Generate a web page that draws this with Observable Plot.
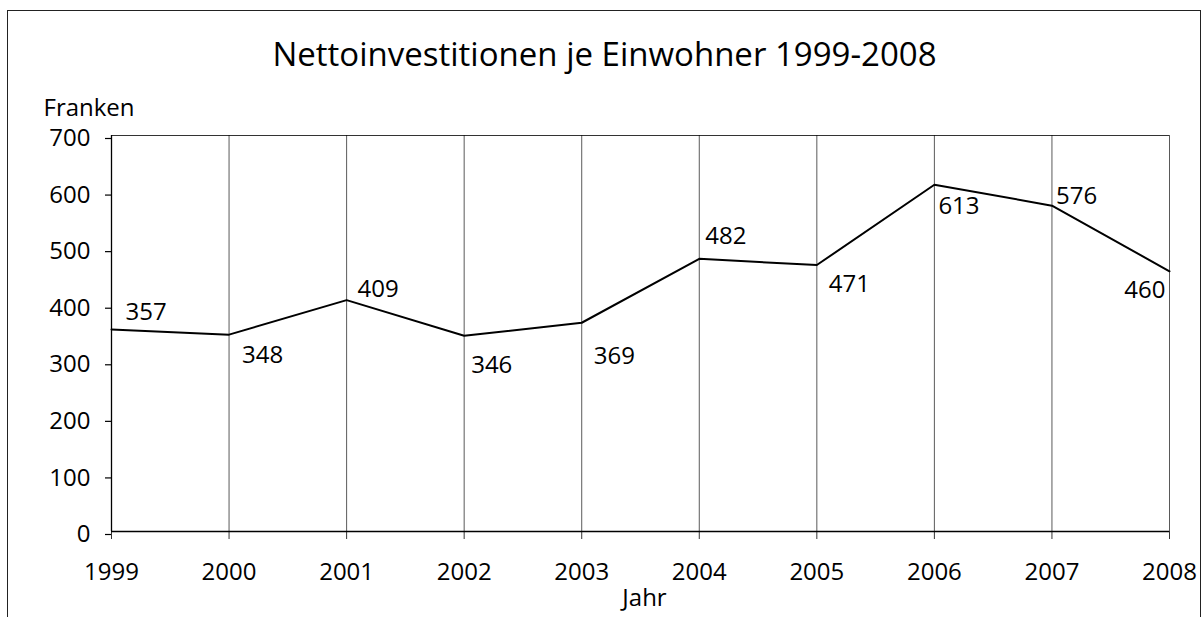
<!DOCTYPE html>
<html>
<head>
<meta charset="utf-8">
<script src="https://cdn.jsdelivr.net/npm/d3@7"></script>
<script src="https://cdn.jsdelivr.net/npm/@observablehq/plot@0.6"></script>
<style>
  html, body { margin: 0; padding: 0; background: #fff; }
  body { width: 1203px; height: 617px; position: relative; overflow: hidden; font-family: "Open Sans", sans-serif; }
  #frame { position: absolute; left: 7px; top: 10px; width: 1194px; height: 700px; border: 1.5px solid #222; box-sizing: border-box; }
  #title { position: absolute; left: 0; width: 1209px; top: 37px; text-align: center; font-size: 33px; line-height: 33px; color: #000; white-space: nowrap; }
  #chart { position: absolute; left: 0; top: 90px; }
</style>
</head>
<body>
<div id="frame"></div>
<div id="title">Nettoinvestitionen je Einwohner 1999-2008</div>
<div id="chart"></div>
<script>
// Data
const years = [1999, 2000, 2001, 2002, 2003, 2004, 2005, 2006, 2007, 2008];
const values = [357, 348, 409, 346, 369, 482, 471, 613, 576, 460];
const yTicks = [0, 100, 200, 300, 400, 500, 600, 700];
const yLabel = "Franken";
const xLabel = "Jahr";

// Label placement (offset from point to start/end of label baseline)
const labelOffsets = [
  [14, -10, "start"], [13, 28, "start"], [11, -3, "start"], [7, 37, "start"], [12, 41, "start"],
  [6, -15, "start"], [12, 27, "start"], [4, 29, "start"], [4, -2, "start"], [-4, 27, "end"]
];

const data = years.map((y, i) => ({year: y, value: values[i]}));
const FS = 24;

const chart = Plot.plot({
  width: 1203,
  height: 527,
  marginLeft: 111,
  marginRight: 34,
  marginTop: 45,
  marginBottom: 86,
  style: {fontFamily: "'Open Sans', sans-serif", fontSize: FS + "px", color: "#000", background: "transparent"},
  x: {domain: [1999, 2008]},
  y: {domain: [0, 700]},
  marks: [
    Plot.ruleX(years.slice(1), {y1: 0, y2: 700, stroke: "#000", strokeOpacity: 0.65, strokeWidth: 1}),
    Plot.ruleY([700], {stroke: "#000", strokeOpacity: 0.8, strokeWidth: 1}),
    Plot.axisY({ticks: yTicks, tickSize: 6, tickPadding: 15, tickFormat: d => String(d), label: null, fontSize: FS, dy: 3, strokeWidth: 1.2}),
    Plot.axisX({ticks: years, tickSize: 8, tickPadding: 23, tickFormat: d => String(d), label: null, fontSize: FS, strokeWidth: 1, strokeOpacity: 0.8}),
    Plot.ruleX([1999], {y1: 0, y2: 700, stroke: "#000", strokeWidth: 1.3}),
    Plot.ruleY([0], {stroke: "#000", strokeWidth: 1.5}),
    Plot.line(data, {x: "year", y: "value", stroke: "#000", strokeWidth: 2}),
    ...data.map((d, i) => Plot.text([d], {
      x: "year", y: "value", text: d => String(d.value),
      dx: labelOffsets[i][0], dy: labelOffsets[i][1], textAnchor: labelOffsets[i][2],
      lineAnchor: "bottom", fontSize: FS, fill: "#000"
    })),
    Plot.text([yLabel], {frameAnchor: "top-left", textAnchor: "start", lineAnchor: "bottom", dx: -68, dy: -20, fontSize: FS, fill: "#000"}),
    Plot.text([xLabel], {frameAnchor: "bottom", textAnchor: "middle", lineAnchor: "bottom", dx: 4, dy: 74, fontSize: FS, fill: "#000"})
  ]
});
document.getElementById("chart").appendChild(chart);
</script>
</body>
</html>
